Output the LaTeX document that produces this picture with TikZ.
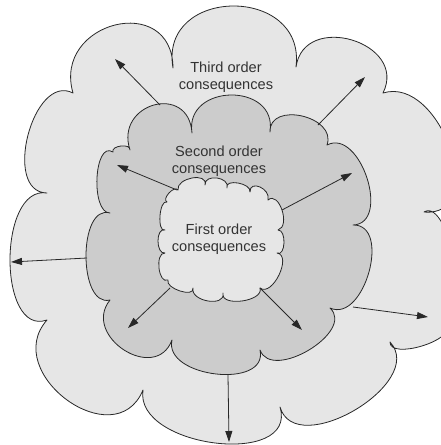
\documentclass[tikz,border=0pt]{standalone}
\usepackage{fontspec}
\setmainfont{Liberation Sans}
\usetikzlibrary{arrows.meta}
\definecolor{outerfill}{RGB}{230,230,230}
\definecolor{midfill}{RGB}{204,204,204}
\definecolor{innerfill}{RGB}{230,230,230}
\definecolor{edge}{RGB}{40,40,40}
\definecolor{txt}{RGB}{51,51,51}
% bump from P=(#1,#2) through M=(#3,#4) to Q=(#5,#6), appended to \cpath
\newcommand\addbmp[6]{%
  \pgfmathsetmacro\cax{0.4333*#1+1.3333*#3-0.7667*#5}%
  \pgfmathsetmacro\cay{0.4333*#2+1.3333*#4-0.7667*#6}%
  \pgfmathsetmacro\cbx{0.4333*#5+1.3333*#3-0.7667*#1}%
  \pgfmathsetmacro\cby{0.4333*#6+1.3333*#4-0.7667*#2}%
  \xdef\cpath{\cpath .. controls (\cax,\cay) and (\cbx,\cby) .. (#5,#6)}%
}
\begin{document}
\begin{tikzpicture}[x=1pt,y=-1pt,
  cloudline/.style={draw=edge,line width=0.8pt,line join=round},
  arr/.style={draw=edge,line width=0.8pt,-{Triangle[length=11pt,width=7pt]}},
  lbl/.style={align=center,text=txt,font=\fontsize{14.6}{17.5}\selectfont,inner sep=0pt}]
\useasboundingbox (0,0) rectangle (441,445);
% outer cloud
\gdef\cpath{}
\addbmp{173}{68}{233}{6}{296}{67}
\addbmp{296}{67}{352}{40}{383}{93}
\addbmp{383}{93}{450}{148}{424}{212}
\addbmp{424}{212}{456}{265}{446}{325}
\addbmp{446}{325}{422}{346}{390}{342}
\addbmp{390}{342}{355}{410}{280}{407}
\addbmp{280}{407}{215}{443}{143}{390}
\addbmp{143}{390}{67}{400}{47}{320}
\addbmp{47}{320}{10}{260}{47}{193}
\addbmp{47}{193}{28}{135}{73}{93}
\addbmp{73}{93}{115}{25}{173}{68}
\let\outerpath\cpath
% second cloud
\gdef\cpath{}
\addbmp{130}{150}{154}{105}{192}{133}
\addbmp{192}{133}{231}{95}{270}{132}
\addbmp{270}{132}{302}{116}{327}{145}
\addbmp{327}{145}{367}{178}{353}{225}
\addbmp{353}{225}{369}{272}{330}{308}
\addbmp{330}{308}{309}{350}{260}{350}
\addbmp{260}{350}{216}{374}{172}{340}
\addbmp{172}{340}{124}{350}{110}{300}
\addbmp{110}{300}{86}{256}{110}{213}
\addbmp{110}{213}{97}{178}{113}{152}
\addbmp{113}{152}{121}{146}{130}{150}
\let\midpath\cpath
% inner cloud
\gdef\cpath{}
\addbmp{178}{190}{192}{178}{205}{185}
\addbmp{205}{185}{217}{178}{227}{188}
\addbmp{227}{188}{238}{183}{250}{192}
\addbmp{250}{192}{260}{187}{268}{200}
\addbmp{268}{200}{282}{210}{278}{230}
\addbmp{278}{230}{284}{243}{277}{253}
\addbmp{277}{253}{279}{275}{260}{288}
\addbmp{260}{288}{242}{301}{223}{293}
\addbmp{223}{293}{208}{301}{193}{288}
\addbmp{193}{288}{180}{291}{168}{280}
\addbmp{168}{280}{159}{268}{165}{253}
\addbmp{165}{253}{158}{241}{165}{230}
\addbmp{165}{230}{160}{216}{167}{202}
\addbmp{167}{202}{169}{193}{178}{190}
\let\innerpath\cpath
\begin{scope}
\clip (0,0) rectangle (441,445);
\path[cloudline,fill=outerfill] (173,68) \outerpath -- cycle;
\end{scope}
\path[cloudline,fill=midfill] (130,150) \midpath -- cycle;
\path[cloudline,fill=innerfill] (178,190) \innerpath -- cycle;
% arrow end points
\coordinate (a1s) at (160,105); \coordinate (a1e) at (115,59);
\coordinate (a2s) at (318,125); \coordinate (a2e) at (365,77);
\coordinate (a3s) at (177,190); \coordinate (a3e) at (117,165);
\coordinate (a4s) at (282,210); \coordinate (a4e) at (352,173);
\coordinate (a5s) at (87,258);  \coordinate (a5e) at (11,262);
\coordinate (a6s) at (170,288); \coordinate (a6e) at (128,328);
\coordinate (a7s) at (260,288); \coordinate (a7e) at (302,330);
\coordinate (a8s) at (353,307); \coordinate (a8e) at (428,317);
\coordinate (a9s) at (228,375); \coordinate (a9e) at (229,442);
\foreach \i in {1,...,9} {\draw[arr] (a\i s) -- (a\i e);}
% labels
\node[lbl] (t3) at (226,77) {Third order\\consequences};
\node[lbl] (t2) at (219,161) {Second order\\consequences};
\node[lbl] (t1) at (219,239) {First order\\consequences};
\end{tikzpicture}
\end{document}
